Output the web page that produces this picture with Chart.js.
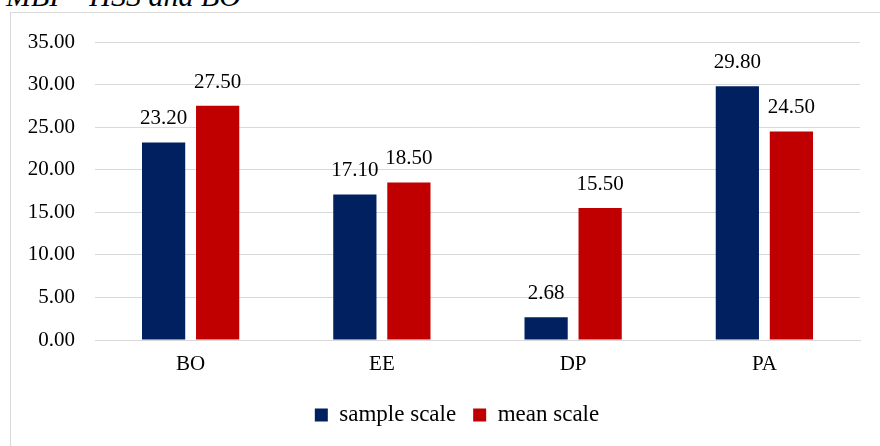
<!DOCTYPE html>
<html>
<head>
<meta charset="utf-8">
<script src="https://cdn.jsdelivr.net/npm/chart.js@4"></script>
<style>
  html, body { margin: 0; padding: 0; background: #ffffff; overflow: hidden; }
  #wrap { position: relative; width: 880px; height: 446px; }
  #frame { position: absolute; left: 10px; top: 12px; width: 900px; height: 460px;
           border: 1px solid #d9d9d9; box-sizing: border-box; }
  #caption { position: absolute; left: 6px; top: -19px; margin: 0;
             font: italic 30px "Liberation Serif", serif; line-height: 30px; color: #000; white-space: nowrap; }
  #chart { position: absolute; left: 0; top: 0; }
</style>
</head>
<body>
<div id="wrap">
  <div id="frame"></div>
  <p id="caption">MBI – HSS and BO</p>
  <canvas id="chart" width="880" height="446"></canvas>
</div>
<script>
// Burnout dimensions and their scores
const categories = ['BO', 'EE', 'DP', 'PA'];
const sampleScale = [23.20, 17.10, 2.68, 29.80];
const meanScale = [27.50, 18.50, 15.50, 24.50];
const yTicks = [0, 5, 10, 15, 20, 25, 30, 35];

const FONT = { family: '"Liberation Serif", serif', size: 21 };
const LEGEND_FONT = { family: '"Liberation Serif", serif', size: 23 };

// Writes each bar's value above it
const valueLabels = {
  id: 'valueLabels',
  afterDatasetsDraw(chart) {
    const ctx = chart.ctx;
    ctx.save();
    ctx.font = `${FONT.size}px ${FONT.family}`;
    ctx.fillStyle = '#000000';
    ctx.textAlign = 'center';
    ctx.textBaseline = 'alphabetic';
    chart.data.datasets.forEach((ds, i) => {
      chart.getDatasetMeta(i).data.forEach((bar, j) => {
        ctx.fillText(ds.data[j].toFixed(2), bar.x, bar.y - 18);
      });
    });
    ctx.restore();
  }
};

// Nudges the legend row a little to the right of the canvas centre
const legendShift = {
  id: 'legendShift',
  afterLayout(chart) {
    if (chart.legend) {
      chart.legend.left += 22;
      chart.legend.right += 22;
    }
  }
};

new Chart(document.getElementById('chart'), {
  type: 'bar',
  data: {
    labels: categories,
    datasets: [
      { label: 'sample scale', data: sampleScale, backgroundColor: '#002060' },
      { label: 'mean scale', data: meanScale, backgroundColor: '#C00000' }
    ]
  },
  options: {
    responsive: false,
    animation: false,
    devicePixelRatio: 1,
    categoryPercentage: 0.565,
    barPercentage: 0.8,
    layout: { padding: { left: 10, right: 20, top: 42, bottom: 9.5 } },
    scales: {
      x: {
        grid: { display: false, drawTicks: false },
        border: { display: true, color: '#d9d9d9' },
        ticks: { color: '#000000', font: FONT, padding: 12 },
        afterFit(scale) { scale.height = 46.5; }
      },
      y: {
        min: 0,
        max: 35,
        grid: { color: '#d9d9d9', lineWidth: 1, drawTicks: false },
        border: { display: false },
        afterBuildTicks(scale) { scale.ticks = yTicks.map(v => ({ value: v })); },
        ticks: {
          color: '#000000',
          font: FONT,
          padding: 20,
          callback: v => Number(v).toFixed(2)
        },
        afterFit(scale) { scale.width = 85; }
      }
    },
    plugins: {
      legend: {
        position: 'bottom',
        labels: {
          color: '#000000',
          font: LEGEND_FONT,
          boxWidth: 13,
          boxHeight: 13,
          padding: 17
        }
      },
      tooltip: { enabled: false }
    }
  },
  plugins: [valueLabels, legendShift]
});
</script>
</body>
</html>
